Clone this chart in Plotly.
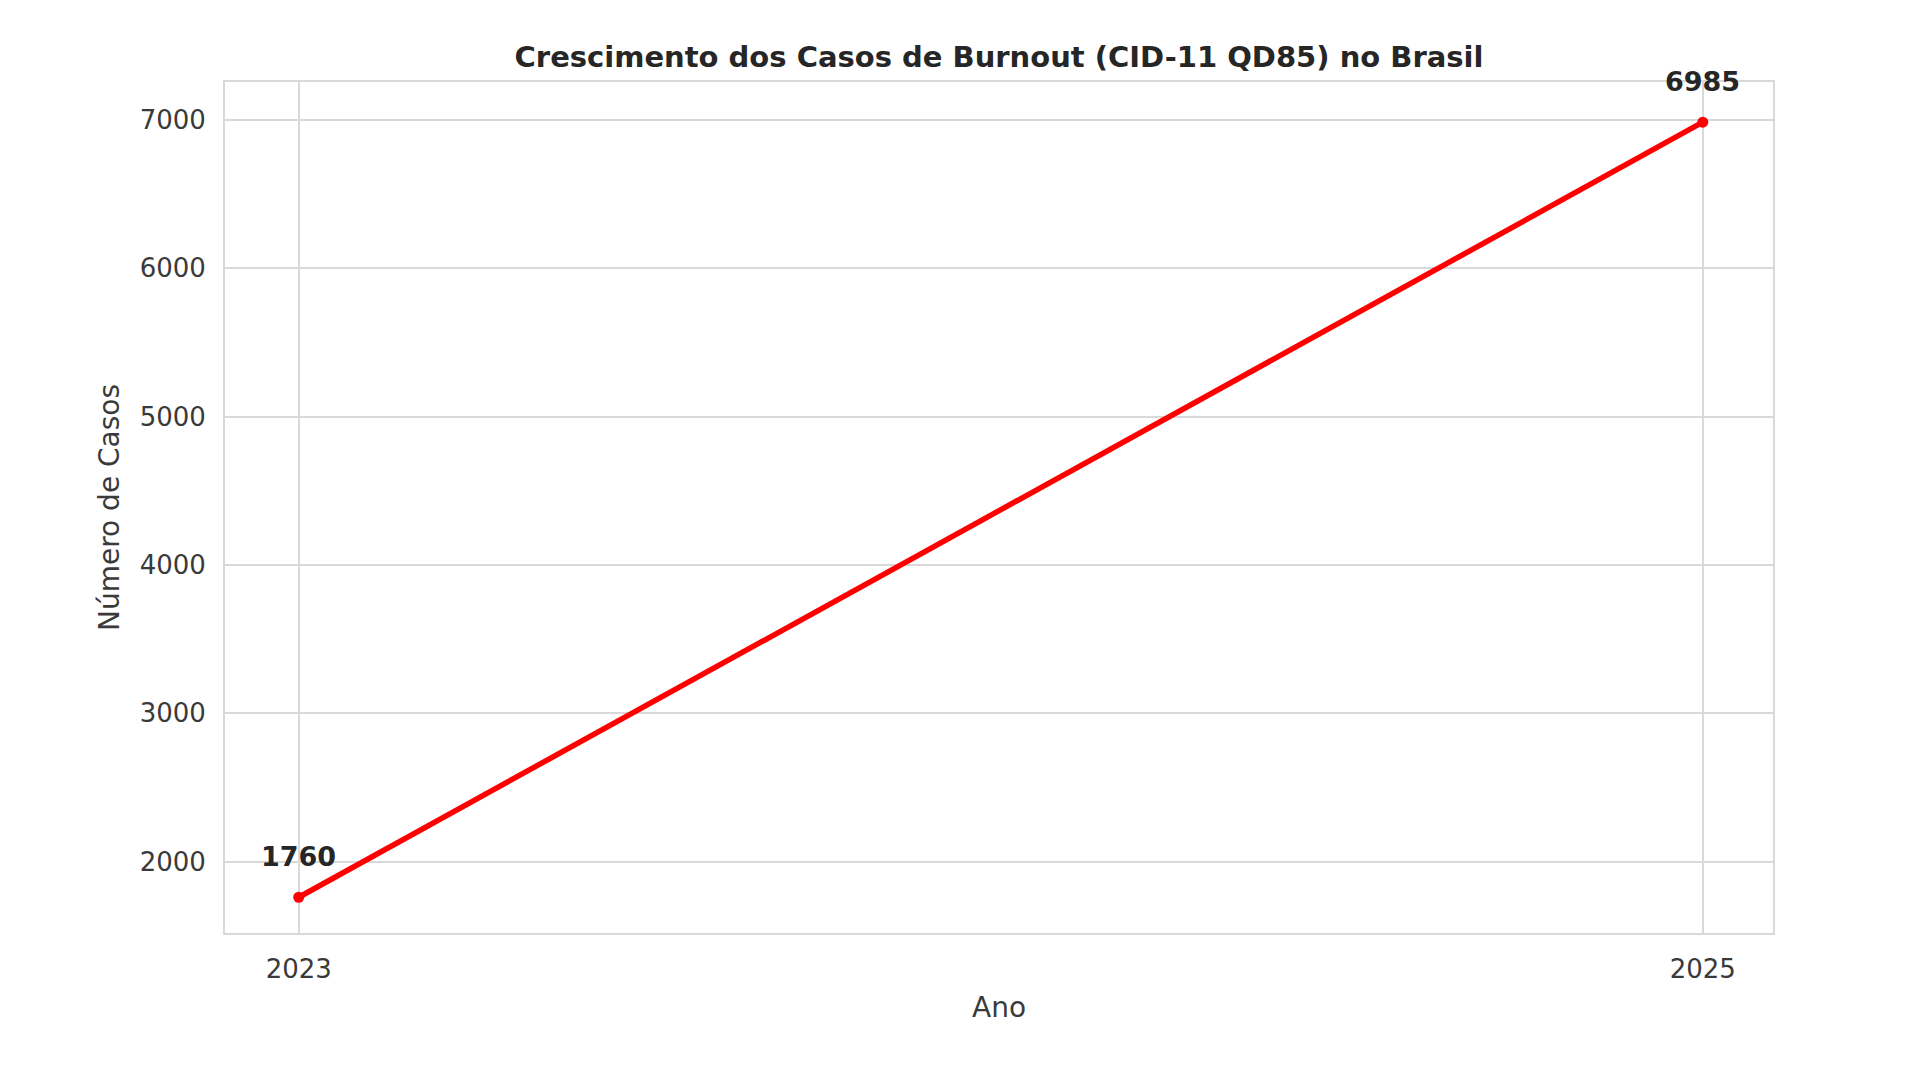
import plotly.graph_objects as go

anos = [2023, 2025]
casos = [1760, 6985]
rotulos = ["1760", "6985"]
y_ticks = [2000, 3000, 4000, 5000, 6000, 7000]

FONT = "DejaVu Sans"
TXT = "#262626"
GRID = "#d9d9d9"

fig = go.Figure()
fig.add_trace(go.Scatter(
    x=anos, y=casos, mode="lines+markers",
    line=dict(color="#ff0000", width=5.5),
    marker=dict(color="#ff0000", size=11),
    showlegend=False, hoverinfo="x+y",
))
for a, c, t in zip(anos, casos, rotulos):
    fig.add_annotation(x=a, y=c, text=f"<b>{t}</b>", showarrow=False,
                       yshift=41, font=dict(family=FONT, size=27, color=TXT))

fig.update_layout(
    width=1920, height=1080,
    margin=dict(l=225, r=147, t=82, b=147),
    paper_bgcolor="white", plot_bgcolor="white",
    font=dict(family=FONT, color=TXT),
    title=dict(text="<b>Crescimento dos Casos de Burnout (CID-11 QD85) no Brasil</b>",
               x=(225 + 1773) / 2 / 1920, xanchor="center", y=1 - 57 / 1080, yanchor="middle",
               font=dict(family=FONT, size=29, color=TXT)),
)
fig.update_xaxes(
    range=[2022.895, 2025.1], tickvals=anos, ticktext=[str(a) for a in anos],
    showgrid=True, gridcolor=GRID, gridwidth=2, zeroline=False,
    showline=True, linecolor=GRID, linewidth=2, mirror=True,
    ticks="", ticklabelstandoff=12,
    tickfont=dict(family=FONT, size=26, color="#3a3a3a"),
    title=dict(text="Ano", font=dict(family=FONT, size=28, color="#3a3a3a"), standoff=14),
)
fig.update_yaxes(
    range=[1519, 7256], tickvals=y_ticks,
    showgrid=True, gridcolor=GRID, gridwidth=2, zeroline=False,
    showline=True, linecolor=GRID, linewidth=2, mirror=True,
    ticks="", ticklabelstandoff=12,
    tickfont=dict(family=FONT, size=26, color="#3a3a3a"),
    title=dict(text="Número de Casos", font=dict(family=FONT, size=28, color="#3a3a3a"), standoff=12),
)

fig.write_html("out.html", config={"displayModeBar": False},
               post_script="document.body.style.margin='0';")
